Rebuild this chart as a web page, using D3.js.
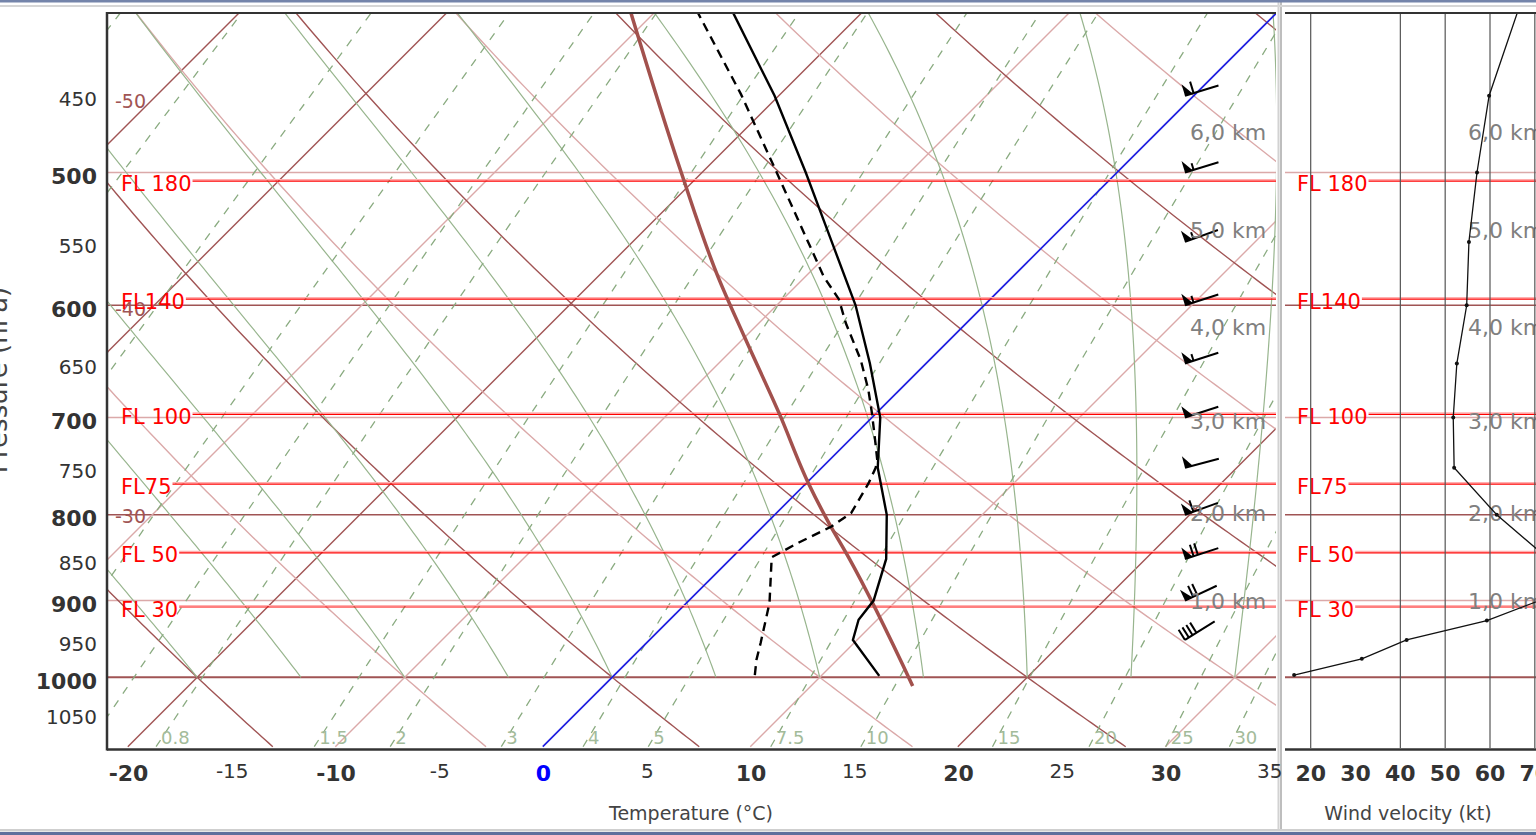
<!DOCTYPE html>
<html>
<head>
<meta charset="utf-8">
<script src="https://cdn.jsdelivr.net/npm/d3@7"></script>
<style>
  body { margin: 0; background: #fff; }
  svg { display: block; font-family: "DejaVu Sans", sans-serif; }
</style>
</head>
<body>
<div id="wrapper"></div>
<script>
// 1. data
const pressureTicks = [450, 500, 550, 600, 650, 700, 750, 800, 850, 900, 950, 1000, 1050]
const boldPressures = [500, 600, 700, 800, 900, 1000]
const tempTicks = [-20, -15, -10, -5, 0, 5, 10, 15, 20, 25, 30, 35]
const isobars = [500, 600, 700, 800, 900, 1000]
const isotherms = [-50, -40, -30, -20, -10, 10, 20, 30]
const darkIsotherms = [-50, -40, -20, 20]
const isothermLabels = [-50, -40, -30]
const dryAdiabats = [-30, -20, -10, 0, 10, 20, 30, 40, 50, 60, 70, 80]
const moistAdiabats = [-20, -15, -10, -5, 0, 5, 10, 15, 20, 25, 30]
const mixingRatios = [0.05, 0.1, 0.2, 0.4, 0.6, 0.8, 1.5, 2, 3, 4, 5, 7.5, 10, 15, 20, 25, 30]
const mixingLabels = [0.8, 1.5, 2, 3, 4, 5, 7.5, 10, 15, 20, 25, 30]

const flightLevels = ["FL 180", "FL140", "FL 100", "FL75", "FL 50", "FL 30"]
const flightPressures = [506, 595, 697, 767, 843, 908]
const heightLabels = ["6,0 km", "5,0 km", "4,0 km", "3,0 km", "2,0 km", "1,0 km"]
const heightPressures = [473, 541, 618, 703, 798, 900]

const tempP = [400, 450, 500, 550, 600, 650, 700, 750, 800, 850, 900, 924, 950, 998]
const tempT = [-26.4, -20.2, -15.0, -10.4, -6.2, -2.7, 0.4, 2.7, 5.4, 7.5, 8.9, 9.1, 9.8, 12.8]

const dewP = [400, 449, 500, 577, 595, 615, 647, 674, 696, 725, 742, 750, 766, 798, 813, 831, 848, 903, 954, 976, 998]
const dewT = [-28.1, -21.9, -16.4, -9.1, -7.3, -5.8, -3.3, -1.5, -0.2, 1.4, 2.3, 2.6, 3.0, 3.6, 3.3, 2.5, 1.9, 4.0, 5.5, 6.1, 6.8]

const parcelP = [1012, 848, 809, 766, 697, 627, 577, 500, 400]
const parcelT = [14.9, 5.6, 3.0, 0.1, -4.6, -10.0, -14.2, -21.0, -31.3]

const windP = [400, 450, 500, 550, 600, 650, 700, 750, 800, 850, 900, 925, 950, 975, 997]
const windSpeed = [66.3, 59.8, 57.1, 55.3, 54.8, 52.6, 51.8, 52.0, 61.5, 73, 71, 59.3, 41.4, 31.4, 16.3]
const speedTicks = [20, 30, 40, 50, 60, 70]
const speedGrid = [20, 40, 50, 60, 70]

const barbP = [450, 500, 550, 600, 650, 700, 750, 800, 850, 900, 950]
const barbDir = [253, 253, 250, 252, 252, 252, 255, 250, 252, 245, 238]
const barbSpeed = [60, 55, 55, 55, 55, 50, 50, 60, 70, 70, 40]

async function drawSkewT() {
  // 2. dimensions
  const dimensions = {
    width: 1536,
    height: 835,
    left: 108,
    right: 1276,
    top: 13,
    bottom: 748,
    skewBase: 746,
    panelLeft: 1285,
    panelRight: 1536
  }

  const colors = {
    dark: "#a05454",
    light: "#dba9a9",
    green: "#98b58e",
    greenDash: "#8aab80",
    greenText: "#a3bb9a",
    blue: "#1e1ee0",
    red: "#ff0000",
    parcel: "#a2514d",
    axis: "#333333",
    height: "#808080"
  }

  // 3. canvas
  const wrapper = d3.select("#wrapper")
    .append("svg")
      .attr("width", dimensions.width)
      .attr("height", dimensions.height)

  wrapper.append("rect")
      .attr("width", dimensions.width)
      .attr("height", dimensions.height)
      .attr("fill", "#fff")

  const defs = wrapper.append("defs")
  defs.append("clipPath").attr("id", "main-clip")
    .append("rect")
      .attr("x", dimensions.left)
      .attr("y", dimensions.top)
      .attr("width", dimensions.right - dimensions.left)
      .attr("height", dimensions.bottom - dimensions.top)
  defs.append("clipPath").attr("id", "panel-clip")
    .append("rect")
      .attr("x", dimensions.panelLeft)
      .attr("y", dimensions.top)
      .attr("width", dimensions.panelRight - dimensions.panelLeft)
      .attr("height", dimensions.bottom - dimensions.top)

  // 4. scales
  const yScale = d3.scaleLog()
    .domain([1000, 500])
    .range([677.3, 172.5])

  const tScale = d3.scaleLinear()
    .domain([0, 10])
    .range([543.5, 751])

  const speedScale = d3.scaleLinear()
    .domain([20, 60])
    .range([1310.7, 1490])

  const skewX = (t, p) => tScale(t) + (dimensions.skewBase - yScale(p))
  const skewLine = d3.line()
    .x(d => skewX(d[0], d[1]))
    .y(d => yScale(d[1]))

  const pressures = d3.range(1100, 395, -5)

  const dryPath = theta => pressures.map(p =>
    [(theta + 273.15) * Math.pow(p / 1000, 0.2857) - 273.15, p])

  const dewFromMixing = (w, p) => {
    const e = w * p / (622 + w)
    const a = Math.log(e / 6.112)
    return 243.5 * a / (17.67 - a)
  }

  const moistPath = tw => {
    const Rd = 287.04, cp = 1005.7, Lv = 2.501e6, eps = 0.622
    const rate = (T, p) => {
      const tc = T - 273.15
      const es = 6.112 * Math.exp(17.67 * tc / (tc + 243.5))
      const rs = eps * es / (p - es)
      return (Rd * T + Lv * rs) / (cp + Lv * Lv * rs * eps / (Rd * T * T)) / p
    }
    let T = tw + 273.15
    let p = 1000
    const dp = -5
    const pts = [[tw, p]]
    while (p > 400) {
      const k1 = rate(T, p)
      const k2 = rate(T + k1 * dp / 2, p + dp / 2)
      T += k2 * dp
      p += dp
      pts.push([T - 273.15, p])
    }
    return pts
  }

  // 5. background grid of the diagram
  const grid = wrapper.append("g").attr("clip-path", "url(#main-clip)")
  const panel = wrapper.append("g").attr("clip-path", "url(#panel-clip)")

  const isobarColor = p => p % 200 === 0 ? colors.dark : colors.light
  ;[grid, panel].forEach((g, i) => {
    g.selectAll(".isobar")
      .data(isobars)
      .join("line")
        .attr("class", "isobar")
        .attr("x1", i ? dimensions.panelLeft : dimensions.left)
        .attr("x2", i ? dimensions.panelRight : dimensions.right)
        .attr("y1", d => yScale(d))
        .attr("y2", d => yScale(d))
        .attr("stroke", isobarColor)
        .attr("stroke-width", d => d === 1000 ? 2 : 1.4)
  })

  grid.selectAll(".isotherm")
    .data(isotherms)
    .join("path")
      .attr("class", "isotherm")
      .attr("d", t => skewLine([[t, 1100], [t, 400]]))
      .attr("fill", "none")
      .attr("stroke", t => darkIsotherms.includes(t) ? colors.dark : colors.light)
      .attr("stroke-width", 1.4)

  grid.selectAll(".dry")
    .data(dryAdiabats)
    .join("path")
      .attr("class", "dry")
      .attr("d", th => skewLine(dryPath(th)))
      .attr("fill", "none")
      .attr("stroke", th => th % 20 === 0 ? colors.dark : colors.light)
      .attr("stroke-width", 1.4)

  grid.selectAll(".moist")
    .data(moistAdiabats)
    .join("path")
      .attr("class", "moist")
      .attr("d", tw => skewLine(moistPath(tw)))
      .attr("fill", "none")
      .attr("stroke", colors.green)
      .attr("stroke-width", 1.2)

  grid.selectAll(".mixing")
    .data(mixingRatios)
    .join("path")
      .attr("class", "mixing")
      .attr("d", w => skewLine(pressures.filter((p, i) => i % 4 === 0)
        .map(p => [dewFromMixing(w, p), p])))
      .attr("fill", "none")
      .attr("stroke", colors.greenDash)
      .attr("stroke-width", 1.3)
      .attr("stroke-dasharray", "8 8")

  grid.selectAll(".mixing-label")
    .data(mixingLabels)
    .join("text")
      .attr("class", "mixing-label")
      .attr("x", w => skewX(dewFromMixing(w, 1100), 1100) + 5)
      .attr("y", 744)
      .text(w => w)
      .attr("fill", colors.greenText)
      .style("font-size", "18px")

  // freezing level isotherm
  grid.append("path")
      .attr("d", skewLine([[0, 1100], [0, 400]]))
      .attr("stroke", colors.blue)
      .attr("stroke-width", 1.7)

  grid.selectAll(".iso-label")
    .data(isothermLabels)
    .join("text")
      .attr("class", "iso-label")
      .attr("x", 146)
      .attr("y", t => dimensions.skewBase - (151 - tScale(t)) + 7.3)
      .text(t => t)
      .attr("text-anchor", "end")
      .attr("fill", colors.dark)
      .style("font-size", "19px")

  // 6. flight levels and heights, on both panels
  ;[[grid, 121, dimensions.right], [panel, 1297, dimensions.panelRight]]
    .forEach(([g, x0, x1]) => {
      const fl = g.selectAll(".fl")
        .data(flightLevels)
        .join("g")
          .attr("class", "fl")
      fl.append("text")
          .attr("x", x0)
          .attr("y", (d, i) => yScale(flightPressures[i]) + 9.5)
          .text(d => d)
          .attr("fill", colors.red)
          .style("font-size", "21px")
      fl.each(function (d, i) {
        const w = d3.select(this).select("text").node().getComputedTextLength()
        const y = yScale(flightPressures[i])
        d3.select(this).append("line")
            .attr("x1", x0 + w + 1).attr("x2", x1)
            .attr("y1", y - 1.5).attr("y2", y - 1.5)
            .attr("stroke", "#ffb0b0")
            .attr("stroke-width", 1.2)
        d3.select(this).append("line")
            .attr("x1", x0 + w + 1).attr("x2", x1)
            .attr("y1", y).attr("y2", y)
            .attr("stroke", colors.red)
            .attr("stroke-width", 1.2)
      })
    })

  // 7. sounding
  grid.append("path")
      .datum(d3.zip(parcelT, parcelP))
      .attr("d", skewLine.curve(d3.curveMonotoneY))
      .attr("fill", "none")
      .attr("stroke", colors.parcel)
      .attr("stroke-width", 3.5)
  skewLine.curve(d3.curveLinear)

  grid.append("path")
      .datum(d3.zip(tempT, tempP))
      .attr("d", skewLine)
      .attr("fill", "none")
      .attr("stroke", "#000")
      .attr("stroke-width", 2.4)

  grid.append("path")
      .datum(d3.zip(dewT, dewP))
      .attr("d", skewLine)
      .attr("fill", "none")
      .attr("stroke", "#000")
      .attr("stroke-width", 2.4)
      .attr("stroke-dasharray", "9 6")

  // wind barbs, feathers at the left end of each staff
  const barbs = grid.append("g")
  barbP.forEach((p, i) => {
    const toward = (barbDir[i] - 180) * Math.PI / 180
    const u = [Math.sin(toward), -Math.cos(toward)]
    const n = [u[1], -u[0]]
    const x0 = 1185, y0 = yScale(p)
    const at = s => [x0 + u[0] * s, y0 + u[1] * s]
    const g = barbs.append("g")
    const tip = at(35)
    g.append("line")
        .attr("x1", x0).attr("y1", y0)
        .attr("x2", tip[0]).attr("y2", tip[1])
        .attr("stroke", "#000").attr("stroke-width", 2)
    let speed = barbSpeed[i]
    let s = 0
    while (speed >= 50) {
      const a = at(s), b = at(s + 8)
      g.append("path")
          .attr("d", `M${a}L${a[0] + n[0] * 12},${a[1] + n[1] * 12}L${b}Z`)
          .attr("fill", "#000")
      s += 9
      speed -= 50
    }
    while (speed >= 10) {
      const a = at(s)
      g.append("line")
          .attr("x1", a[0]).attr("y1", a[1])
          .attr("x2", a[0] + n[0] * 12).attr("y2", a[1] + n[1] * 12)
          .attr("stroke", "#000").attr("stroke-width", 2)
      s += 4.5
      speed -= 10
    }
    if (speed >= 5) {
      const a = at(s)
      g.append("line")
          .attr("x1", a[0]).attr("y1", a[1])
          .attr("x2", a[0] + n[0] * 7).attr("y2", a[1] + n[1] * 7)
          .attr("stroke", "#000").attr("stroke-width", 2)
    }
  })

  // height labels on both panels
  ;[[grid, 1190], [panel, 1468]].forEach(([g, x]) => {
    g.selectAll(".height")
      .data(heightLabels)
      .join("text")
        .attr("class", "height")
        .attr("x", x)
        .attr("y", (d, i) => yScale(heightPressures[i]) + 8)
        .text(d => d)
        .attr("fill", colors.height)
        .style("font-size", "22px")
  })

  // 8. wind velocity panel
  panel.selectAll(".speed-grid")
    .data(speedGrid)
    .join("line")
      .attr("class", "speed-grid")
      .attr("x1", d => speedScale(d))
      .attr("x2", d => speedScale(d))
      .attr("y1", dimensions.top)
      .attr("y2", dimensions.bottom)
      .attr("stroke", "#555")
      .attr("stroke-width", 1.2)

  const windLine = d3.line()
    .x(d => speedScale(d[0]))
    .y(d => yScale(d[1]))
  panel.append("path")
      .datum(d3.zip(windSpeed, windP))
      .attr("d", windLine)
      .attr("fill", "none")
      .attr("stroke", "#111")
      .attr("stroke-width", 1.3)
  panel.selectAll(".wind-dot")
    .data(d3.zip(windSpeed, windP))
    .join("circle")
      .attr("class", "wind-dot")
      .attr("cx", d => speedScale(d[0]))
      .attr("cy", d => yScale(d[1]))
      .attr("r", 2)
      .attr("fill", "#111")

  // 9. axes and frame
  const frame = wrapper.append("g")
      .attr("stroke", colors.axis)
  frame.append("line")
      .attr("x1", 107).attr("x2", 107)
      .attr("y1", dimensions.top - 1).attr("y2", 750.5)
      .attr("stroke-width", 2.5)
  frame.append("line")
      .attr("x1", 107).attr("x2", dimensions.right)
      .attr("y1", dimensions.top).attr("y2", dimensions.top)
      .attr("stroke-width", 2)
  frame.append("line")
      .attr("x1", 107).attr("x2", dimensions.right)
      .attr("y1", 749.5).attr("y2", 749.5)
      .attr("stroke-width", 2.5)
  frame.append("line")
      .attr("x1", dimensions.panelLeft).attr("x2", dimensions.panelRight)
      .attr("y1", dimensions.top).attr("y2", dimensions.top)
      .attr("stroke-width", 2)
  frame.append("line")
      .attr("x1", dimensions.panelLeft).attr("x2", dimensions.panelRight)
      .attr("y1", 749.5).attr("y2", 749.5)
      .attr("stroke-width", 2.5)

  // panel separator and window edges
  wrapper.append("line")
      .attr("x1", 1278.5).attr("x2", 1278.5)
      .attr("y1", 0).attr("y2", 830)
      .attr("stroke", "#d2d2d2").attr("stroke-width", 2)
  wrapper.append("line")
      .attr("x1", 1281).attr("x2", 1281)
      .attr("y1", 0).attr("y2", 830)
      .attr("stroke", "#a9a9a9").attr("stroke-width", 1.5)
  wrapper.append("rect")
      .attr("x", 0).attr("y", 0)
      .attr("width", dimensions.width).attr("height", 2.5)
      .attr("fill", "#7484aa")
  wrapper.append("rect")
      .attr("x", 0).attr("y", 5)
      .attr("width", dimensions.width).attr("height", 2)
      .attr("fill", "#d6d6d6")
  wrapper.append("rect")
      .attr("x", 0).attr("y", 829)
      .attr("width", dimensions.width).attr("height", 2.5)
      .attr("fill", "#cfcfcf")
  wrapper.append("rect")
      .attr("x", 0).attr("y", 832)
      .attr("width", dimensions.width).attr("height", 3)
      .attr("fill", "#5f6f9c")

  // pressure labels
  wrapper.append("g")
    .selectAll("text")
    .data(pressureTicks)
    .join("text")
      .attr("x", 97)
      .attr("y", p => yScale(p) + 3.4 + (boldPressures.includes(p) ? 8 : 7.3))
      .text(p => p)
      .attr("text-anchor", "end")
      .attr("fill", "#333")
      .style("font-weight", p => boldPressures.includes(p) ? "bold" : "normal")
      .style("font-size", p => boldPressures.includes(p) ? "22px" : "20px")

  // temperature labels
  wrapper.append("g")
    .selectAll("text")
    .data(tempTicks)
    .join("text")
      .attr("x", t => tScale(t))
      .attr("y", t => t % 10 === 0 ? 781 : 777.5)
      .text(t => t)
      .attr("text-anchor", "middle")
      .attr("fill", t => t === 0 ? "#0000ff" : "#333")
      .style("font-weight", t => t % 10 === 0 ? "bold" : "normal")
      .style("font-size", t => t % 10 === 0 ? "22px" : "20px")

  // speed labels
  wrapper.append("g")
    .selectAll("text")
    .data(speedTicks)
    .join("text")
      .attr("x", d => speedScale(d))
      .attr("y", 781)
      .text(d => d)
      .attr("text-anchor", "middle")
      .attr("fill", "#333")
      .style("font-weight", "bold")
      .style("font-size", "22px")

  wrapper.append("text")
      .attr("x", 691)
      .attr("y", 820)
      .text("Temperature (°C)")
      .attr("text-anchor", "middle")
      .attr("fill", "#444")
      .style("font-size", "19px")

  wrapper.append("text")
      .attr("x", 1408)
      .attr("y", 820)
      .text("Wind velocity (kt)")
      .attr("text-anchor", "middle")
      .attr("fill", "#444")
      .style("font-size", "19px")

  wrapper.append("text")
      .attr("transform", "translate(7, 380) rotate(-90)")
      .text("Pressure (hPa)")
      .attr("text-anchor", "middle")
      .attr("fill", "#444")
      .style("font-size", "26px")
}

drawSkewT()
</script>
</body>
</html>
